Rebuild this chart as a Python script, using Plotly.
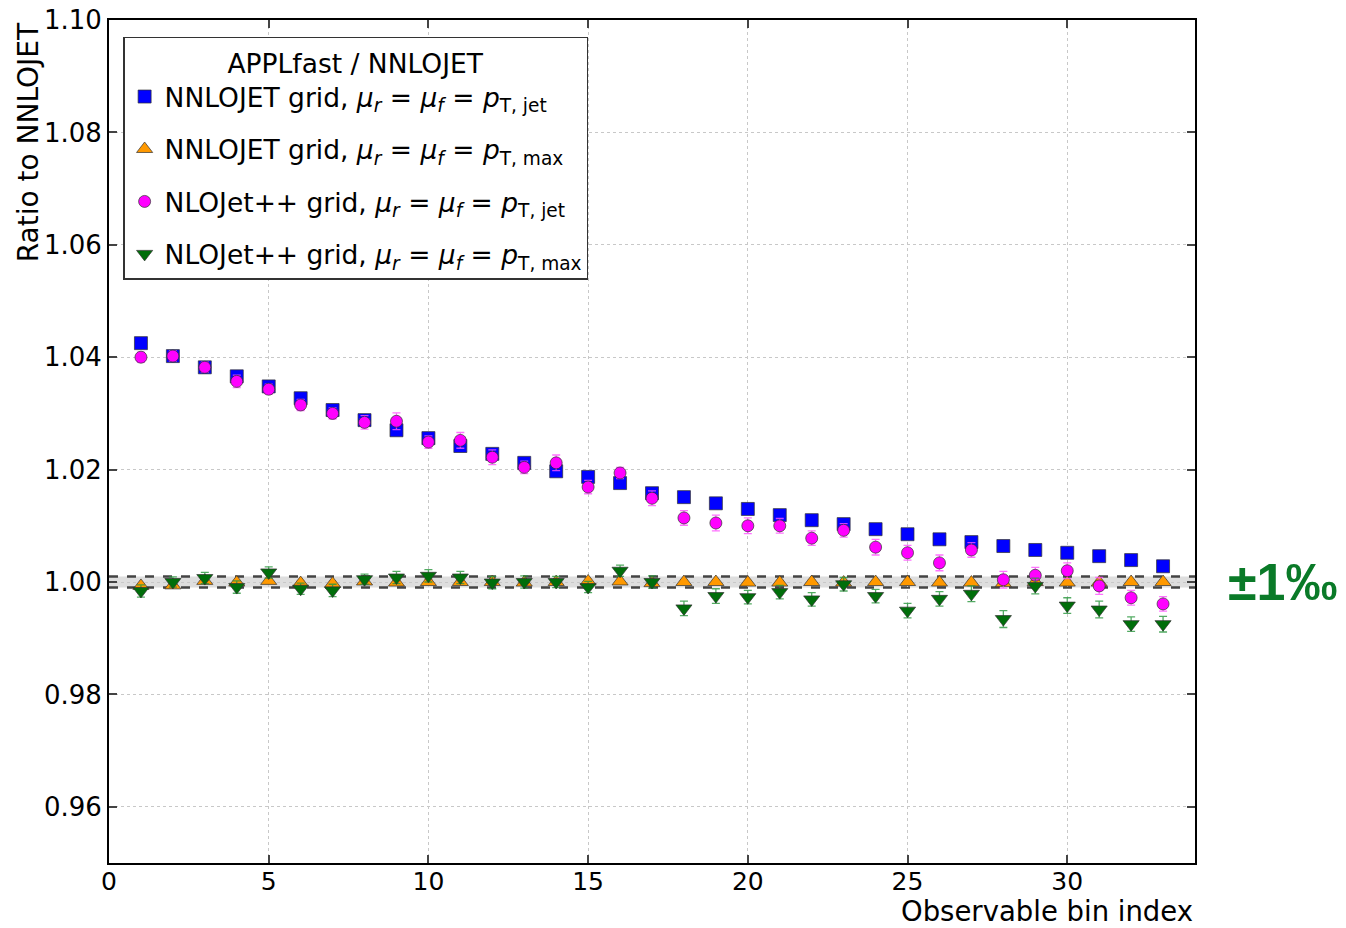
import plotly.graph_objects as go

bins = list(range(1, 34))

nnlojet_ptjet = [1.0425, 1.0402, 1.0382, 1.0366, 1.0348, 1.0327, 1.0306, 1.0288, 1.0270, 1.0256,
                 1.0242, 1.0228, 1.0212, 1.0197, 1.0187, 1.0176, 1.0158, 1.0151, 1.0140, 1.0130,
                 1.0119, 1.0110, 1.0103, 1.0094, 1.0085, 1.0076, 1.0071, 1.0064, 1.0057, 1.0052,
                 1.0046, 1.0039, 1.0028]
nnlojet_ptjet_err = [0.0003] * 33

nnlojet_ptmax = [0.9993, 0.9994, 1.0002, 0.9999, 1.0002, 0.9998, 0.9997, 1.0001, 0.9999, 1.0000,
                 1.0000, 1.0000, 0.9999, 1.0000, 1.0001, 1.0001, 0.9998, 1.0000, 1.0000, 0.9999,
                 0.9999, 1.0000, 0.9999, 1.0000, 1.0000, 0.9999, 0.9999, 0.9998, 1.0000, 0.9999,
                 0.9999, 1.0000, 1.0000]
nnlojet_ptmax_err = [0.0004] * 33

nlojet_ptjet = [1.0400, 1.0402, 1.0382, 1.0357, 1.0343, 1.0315, 1.0300, 1.0284, 1.0286, 1.0249,
                1.0252, 1.0222, 1.0204, 1.0212, 1.0169, 1.0194, 1.0149, 1.0114, 1.0105, 1.0100,
                1.0100, 1.0078, 1.0092, 1.0062, 1.0052, 1.0034, 1.0057, 1.0004, 1.0012, 1.0020,
                0.9993, 0.9972, 0.9961]
nlojet_ptjet_err = [0.0009, 0.0009, 0.0009, 0.0011, 0.0009, 0.0010, 0.0010, 0.0012, 0.0015, 0.0011,
                    0.0014, 0.0013, 0.0011, 0.0014, 0.0012, 0.0010, 0.0013, 0.0013, 0.0014, 0.0014,
                    0.0013, 0.0013, 0.0012, 0.0014, 0.0013, 0.0014, 0.0013, 0.0015, 0.0014, 0.0014,
                    0.0015, 0.0013, 0.0013]

nlojet_ptmax = [0.9984, 1.0000, 1.0007, 0.9991, 1.0017, 0.9988, 0.9985, 1.0005, 1.0008, 1.0011,
                1.0008, 0.9999, 1.0000, 1.0000, 0.9991, 1.0020, 1.0000, 0.9953, 0.9975, 0.9973,
                0.9982, 0.9969, 0.9996, 0.9975, 0.9949, 0.9970, 0.9979, 0.9934, 0.9993, 0.9958,
                0.9951, 0.9925, 0.9925]
nlojet_ptmax_err = [0.0011, 0.0009, 0.0010, 0.0011, 0.0010, 0.0010, 0.0011, 0.0009, 0.0011, 0.0011,
                    0.0011, 0.0011, 0.0011, 0.0010, 0.0010, 0.0010, 0.0011, 0.0013, 0.0013, 0.0012,
                    0.0012, 0.0012, 0.0012, 0.0012, 0.0013, 0.0013, 0.0014, 0.0015, 0.0014, 0.0014,
                    0.0015, 0.0013, 0.0014]

band_lo, band_hi = 0.999, 1.001
x_range = [0, 34]

names = [
    "NNLOJET grid, <i>μ<sub>r</sub></i> = <i>μ<sub>f</sub></i> = <i>p</i><sub>T, jet</sub>",
    "NNLOJET grid, <i>μ<sub>r</sub></i> = <i>μ<sub>f</sub></i> = <i>p</i><sub>T, max</sub>",
    "NLOJet++ grid, <i>μ<sub>r</sub></i> = <i>μ<sub>f</sub></i> = <i>p</i><sub>T, jet</sub>",
    "NLOJet++ grid, <i>μ<sub>r</sub></i> = <i>μ<sub>f</sub></i> = <i>p</i><sub>T, max</sub>",
]

series = [
    (nnlojet_ptjet, nnlojet_ptjet_err, "#0000ff", "square", 13),
    (nnlojet_ptmax, nnlojet_ptmax_err, "#ff9900", "triangle-up", 14),
    (nlojet_ptjet, nlojet_ptjet_err, "#ff00ff", "circle", 12),
    (nlojet_ptmax, nlojet_ptmax_err, "#006e0a", "triangle-down", 14),
]
err_colors = ["rgba(60,60,255,0.8)", "rgba(255,170,60,0.8)", "rgba(255,80,255,0.8)", "rgba(40,150,60,0.8)"]

fig = go.Figure()

fig.add_shape(type="rect", xref="x", yref="y", x0=x_range[0], x1=x_range[1], y0=band_lo, y1=band_hi,
              fillcolor="rgba(190,190,190,0.5)", line=dict(width=0), layer="below")
for yv in (band_lo, band_hi):
    fig.add_shape(type="line", xref="x", yref="y", x0=x_range[0], x1=x_range[1], y0=yv, y1=yv,
                  line=dict(color="#444444", width=2.5, dash="dash"), layer="below")

for i, (vals, errs, col, sym, sz) in enumerate(series):
    fig.add_trace(go.Scatter(
        x=bins, y=vals, mode="markers", name=names[i], legendgroup=f"g{i}",
        marker=dict(color=col, symbol=sym, size=sz, line=dict(color="rgba(50,50,50,0.7)", width=1)),
        error_y=dict(type="data", array=errs, visible=True, color=err_colors[i], thickness=1.3, width=4),
    ))

fig.update_layout(
    width=1346, height=928,
    margin=dict(l=109, r=151, t=20, b=65, autoexpand=False),
    paper_bgcolor="white", plot_bgcolor="white",
    font=dict(family="DejaVu Sans", size=26, color="black"),
    showlegend=True,
    legend=dict(
        x=0.013, y=0.98, xanchor="left", yanchor="top",
        bgcolor="white", bordercolor="#333333", borderwidth=1.5,
        title=dict(text="APPLfast / NNLOJET", side="top center", font=dict(size=26.5)),
        font=dict(size=26.5), tracegroupgap=15,
    ),
    xaxis=dict(
        range=x_range, tick0=0, dtick=5, ticks="inside", ticklen=8, tickwidth=1.5,
        showline=True, linecolor="black", linewidth=2, mirror="ticks", automargin=False,
        showgrid=True, gridcolor="#c8c8c8", griddash="dot", gridwidth=1.2, zeroline=False,
        tickfont=dict(size=25), ticklabelstandoff=-5,
    ),
    yaxis=dict(
        range=[0.95, 1.10], tickvals=[0.96, 0.98, 1.00, 1.02, 1.04, 1.06, 1.08, 1.10],
        tickformat=".2f", ticks="inside", ticklen=8, tickwidth=1.5, automargin=False,
        showline=True, linecolor="black", linewidth=2, mirror="ticks",
        showgrid=True, gridcolor="#c8c8c8", griddash="dot", gridwidth=1.2, zeroline=False,
        tickfont=dict(size=26),
    ),
)

fig.add_annotation(text="Observable bin index", xref="paper", yref="paper", x=1.0, y=-0.057,
                   xanchor="right", yanchor="middle", showarrow=False, font=dict(size=27.5))
fig.add_annotation(text="Ratio to NNLOJET", xref="paper", yref="paper", x=-0.0746, y=0.855,
                   xanchor="center", yanchor="middle", textangle=-90, showarrow=False, font=dict(size=28))
fig.add_annotation(text="<b>±1‰</b>", xref="paper", yref="y", x=1.081, y=1.0,
                   xanchor="center", yanchor="middle", showarrow=False,
                   font=dict(family="Liberation Sans", size=52, color="#0a7a28"))

fig.write_html("out.html", config={"displayModeBar": False},
               post_script="document.body.style.margin='0px';")
